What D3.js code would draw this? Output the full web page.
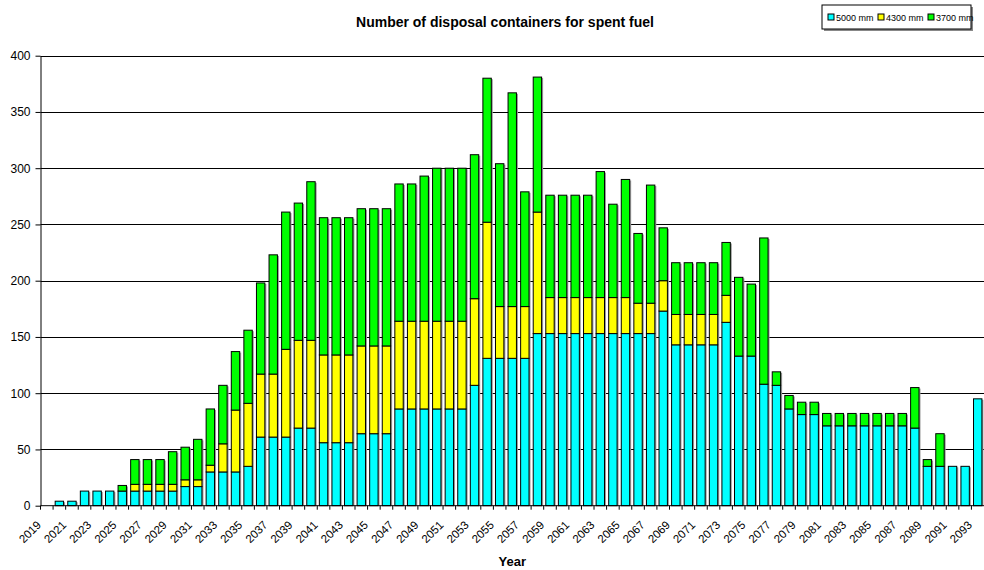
<!DOCTYPE html>
<html>
<head>
<meta charset="utf-8">
<script src="https://cdn.jsdelivr.net/npm/d3@7"></script>
<style>
  body { margin: 0; background: #fff; }
  svg { font-family: Arial, "Liberation Sans", sans-serif; }
  .axis text { font-size: 12px; fill: #000; }
  .axis path, .axis line { stroke: #000; }
</style>
</head>
<body>
<svg id="chart" width="984" height="570"></svg>
<script>
// years 2019..2093
const years = d3.range(2019, 2094).map(String);

// 5000 mm containers (cyan)
const c5000 = [
  0, 4, 4, 13, 13, 13, 13, 13, 13, 13,
  13, 17, 17, 30, 30, 30, 35, 61, 61, 61,
  69, 69, 56, 56, 56, 64, 64, 64, 86, 86,
  86, 86, 86, 86, 107, 131, 131, 131, 131, 153,
  153, 153, 153, 153, 153, 153, 153, 153, 153, 173,
  143, 143, 143, 143, 163, 133, 133, 108, 107, 86,
  81, 81, 71, 71, 71, 71, 71, 71, 71, 69,
  35, 35, 35, 35, 95
];

// 4300 mm containers (yellow)
const c4300 = [
  0, 0, 0, 0, 0, 0, 0, 6, 6, 6,
  6, 6, 6, 6, 25, 55, 56, 56, 56, 78,
  78, 78, 78, 78, 78, 78, 78, 78, 78, 78,
  78, 78, 78, 78, 77, 121, 46, 46, 46, 108,
  32, 32, 32, 32, 32, 32, 32, 27, 27, 27,
  27, 27, 27, 27, 24, 0, 0, 0, 0, 0,
  0, 0, 0, 0, 0, 0, 0, 0, 0, 0,
  0, 0, 0, 0, 0
];

// 3700 mm containers (green)
const c3700 = [
  0, 0, 0, 0, 0, 0, 5, 22, 22, 22,
  29, 29, 36, 50, 52, 52, 65, 81, 106, 122,
  122, 141, 122, 122, 122, 122, 122, 122, 122, 122,
  129, 136, 136, 136, 128, 128, 127, 190, 102, 120,
  91, 91, 91, 91, 112, 83, 105, 62, 105, 47,
  46, 46, 46, 46, 47, 70, 64, 130, 12, 12,
  11, 11, 11, 11, 11, 11, 11, 11, 11, 36,
  6, 29, 0, 0, 0
];

const seriesNames = ['5000 mm', '4300 mm', '3700 mm'];
const seriesColors = ['#00FFFF', '#FFFF00', '#00FF00'];
const yTicks = [0, 50, 100, 150, 200, 250, 300, 350, 400];

const table = years.map((y, i) => ({
  year: y, '5000 mm': c5000[i], '4300 mm': c4300[i], '3700 mm': c3700[i]
}));
const stacked = d3.stack().keys(seriesNames)(table);
const total = d => d['5000 mm'] + d['4300 mm'] + d['3700 mm'];

const svg = d3.select('#chart');
const plot = { left: 40.5, right: 984, top: 55.7, bottom: 505.7 };

const x = d3.scaleBand()
  .domain(years)
  .range([plot.left, plot.right])
  .paddingInner(1 / 3)
  .paddingOuter(1 / 6);

const y = d3.scaleLinear()
  .domain([0, 400])
  .range([plot.bottom, plot.top]);

// gridlines
svg.append('g')
  .selectAll('line')
  .data(yTicks.slice(1))
  .enter()
  .append('line')
  .attr('x1', plot.left)
  .attr('x2', plot.right)
  .attr('y1', d => Math.round(y(d)) + 0.5)
  .attr('y2', d => Math.round(y(d)) + 0.5)
  .attr('stroke', '#000')
  .attr('stroke-width', 1);

// bar shadows
svg.append('g')
  .selectAll('rect')
  .data(table.filter(d => total(d) > 0))
  .enter()
  .append('rect')
  .attr('x', d => x(d.year) + 1.5)
  .attr('y', d => y(total(d)) + 1)
  .attr('width', x.bandwidth())
  .attr('height', d => y(0) - y(total(d)) - 1)
  .attr('fill', '#9a9a9a');

// stacked bars
svg.append('g')
  .selectAll('g')
  .data(stacked)
  .enter()
  .append('g')
  .attr('fill', (d, i) => seriesColors[i])
  .selectAll('rect')
  .data(d => d.filter(s => s[1] - s[0] > 0))
  .enter()
  .append('rect')
  .attr('x', d => x(d.data.year))
  .attr('y', d => y(d[1]))
  .attr('width', x.bandwidth())
  .attr('height', d => y(d[0]) - y(d[1]))
  .attr('stroke', '#000')
  .attr('stroke-width', 1);

// y axis
svg.append('g')
  .attr('class', 'axis')
  .attr('transform', 'translate(' + plot.left + ',0)')
  .call(d3.axisLeft(y).tickValues(yTicks).tickSize(5).tickPadding(5).tickSizeOuter(0));

// x axis: ticks between categories
const xAxisG = svg.append('g')
  .attr('class', 'axis')
  .attr('transform', 'translate(0,' + plot.bottom + ')');

xAxisG.append('line')
  .attr('x1', plot.left)
  .attr('x2', plot.right)
  .attr('stroke', '#000');

xAxisG.selectAll('.tick')
  .data(years)
  .enter()
  .append('line')
  .attr('class', 'tick')
  .attr('x1', d => x(d) - x.step() * x.paddingInner() / 2)
  .attr('x2', d => x(d) - x.step() * x.paddingInner() / 2)
  .attr('y1', 0)
  .attr('y2', 4)
  .attr('stroke', '#000');

xAxisG.selectAll('.lbl')
  .data(years.filter((d, i) => i % 2 === 0))
  .enter()
  .append('text')
  .attr('class', 'lbl')
  .attr('text-anchor', 'end')
  .style('font-size', '11.5px')
  .attr('transform', d => 'translate(' + (x(d) + x.bandwidth() / 2 - 5) + ',20) rotate(-45)')
  .text(d => d);

// axis title
svg.append('text')
  .attr('x', (plot.left + plot.right) / 2)
  .attr('y', 566)
  .attr('text-anchor', 'middle')
  .style('font-size', '13px')
  .style('font-weight', 'bold')
  .text('Year');

// chart title
svg.append('text')
  .attr('x', 505)
  .attr('y', 27)
  .attr('text-anchor', 'middle')
  .style('font-size', '14px')
  .style('font-weight', 'bold')
  .text('Number of disposal containers for spent fuel');

// legend
const legend = svg.append('g').attr('transform', 'translate(822,5)');
legend.append('rect')
  .attr('x', 2).attr('y', 2)
  .attr('width', 149).attr('height', 24)
  .attr('fill', '#888');
legend.append('rect')
  .attr('x', 0).attr('y', 0)
  .attr('width', 149).attr('height', 24)
  .attr('fill', '#fff')
  .attr('stroke', '#000');

const entry = legend.selectAll('.entry')
  .data(seriesNames)
  .enter()
  .append('g')
  .attr('class', 'entry')
  .attr('transform', (d, i) => 'translate(' + (6 + i * 50) + ',0)');

entry.append('rect')
  .attr('x', 0).attr('y', 9)
  .attr('width', 6).attr('height', 6)
  .attr('fill', (d, i) => seriesColors[i])
  .attr('stroke', '#000');

entry.append('text')
  .attr('x', 8).attr('y', 16)
  .style('font-size', '9px')
  .text(d => d);
</script>
</body>
</html>
